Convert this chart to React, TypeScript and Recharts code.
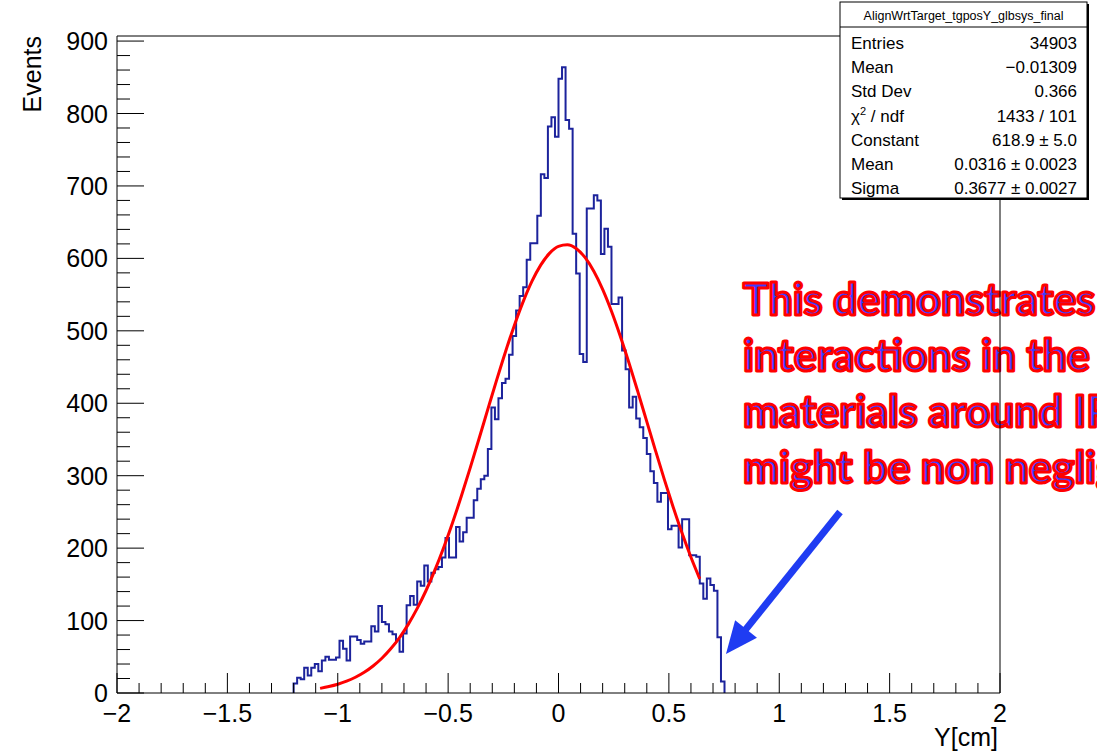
import React from 'react';
import { ComposedChart, Line, XAxis, YAxis } from 'recharts';

const W = 1097;
const H = 751;
// plot frame in page pixels (ROOT pad margins)
const PLOT = { left: 117, right: 1000, top: 36, bottom: 693 };
const FONT = '"Liberation Sans", Arial, Helvetica, sans-serif';

// histogram: lower edge of the first filled bin, bin width, contents
const BIN_START = -1.2;
const BIN_WIDTH = 0.016;
const BIN_COUNTS = [
  13, 21, 19, 35, 24, 35, 40, 30, 45, 50, 46, 46, 49, 72, 61, 45, 78, 78, 73, 68,
  71, 71, 92, 85, 120, 98, 95, 85, 81, 73, 57, 82, 121, 134, 122,
  154, 148, 176, 154, 166, 171, 174, 187, 214, 187, 187, 229, 209, 222, 242, 242,
  266, 282, 295, 300, 337,
  394, 378, 407, 428, 434, 467, 493, 528, 548, 560, 598, 621, 621, 659, 716, 711,
  782, 795, 768, 848, 864,
  791, 779, 634, 579, 468, 457, 669, 669, 687, 680, 606, 641, 616, 537, 537, 546,
  473, 447, 394, 409, 379, 367, 352, 330, 306, 290, 264, 276, 276,
  226, 231, 231, 201, 240, 240, 190, 190, 188, 151, 130, 158, 149, 141, 77, 16,
];

// gaus fit curve as drawn (red)
const FIT_X = [
  -1.08, -1.04, -1.0, -0.96, -0.92, -0.88, -0.84, -0.8, -0.76, -0.72, -0.68, -0.64,
  -0.6, -0.56, -0.52, -0.48, -0.44, -0.4, -0.36, -0.32, -0.28, -0.24, -0.2, -0.16,
  -0.12, -0.08, -0.04, 0.0, 0.04, 0.08, 0.12, 0.16, 0.2, 0.24, 0.28, 0.32, 0.36,
  0.4, 0.44, 0.48, 0.52, 0.56, 0.6, 0.64,
];
const FIT_Y = [
  6.4, 8.9, 12.1, 16.3, 21.7, 28.6, 37.3, 48.0, 61.0, 76.6, 95.1, 116.8,
  141.5, 169.6, 200.9, 235.1, 271.9, 310.8, 351.0, 391.8, 432.2, 471.2, 507.5, 540.3,
  568.5, 591.0, 607.3, 616.6, 618.7, 613.6, 601.3, 582.3, 557.3, 527.1, 492.6, 455.0, 415.3,
  374.7, 334.0, 294.2, 256.2, 220.4, 187.4, 157.5,
];

const X_DOMAIN: [number, number] = [-2, 2];
const Y_DOMAIN: [number, number] = [0, 907];
const X_MAJOR = [-2, -1.5, -1, -0.5, 0, 0.5, 1, 1.5, 2];
const Y_MAJOR = [0, 100, 200, 300, 400, 500, 600, 700, 800, 900];

const STATS_TITLE = 'AlignWrtTarget_tgposY_glbsys_final';
const STATS_ROWS: [string, string][] = [
  ['Entries', '34903'],
  ['Mean', '\u22120.01309'],
  ['Std Dev', '0.366'],
  ['chi2', '1433 / 101'],
  ['Constant', '618.9 \u00b1 5.0'],
  ['Mean', '0.0316 \u00b1 0.0023'],
  ['Sigma', '0.3677 \u00b1 0.0027'],
];

const NOTE_LINES = [
  'This demonstrates that',
  'interactions in the',
  'materials around IP',
  'might be non negligible',
];

// minor ticks every 0.1 on x, every 20 on y
const xTicks: number[] = [];
for (let i = 0; i <= 40; i++) xTicks.push(Math.round((X_DOMAIN[0] + i * 0.1) * 10) / 10);
const yTicks: number[] = [];
for (let v = 0; v <= 900; v += 20) yTicks.push(v);

const histData = [
  { x: BIN_START, n: 0 },
  ...BIN_COUNTS.map((n, i) => ({ x: +(BIN_START + i * BIN_WIDTH).toFixed(3), n })),
  { x: +(BIN_START + BIN_COUNTS.length * BIN_WIDTH).toFixed(3), n: 0 },
];
const fitData = FIT_X.map((x, i) => ({ x, f: FIT_Y[i] }));

const fmt = (v: number) => (v < 0 ? '\u2212' + Math.abs(v) : String(v));

const XTick = (props: any) => {
  const { x, y, payload } = props;
  const v = payload.value;
  const major = X_MAJOR.some((m) => Math.abs(m - v) < 1e-6);
  return (
    <g>
      <line x1={x} x2={x} y1={y} y2={y - (major ? 20 : 10)} stroke="#000" strokeWidth={1} />
      {major && (
        <text x={x} y={y + 29} textAnchor="middle" fontSize={25} fontFamily={FONT} fill="#000">
          {fmt(v)}
        </text>
      )}
    </g>
  );
};

const YTick = (props: any) => {
  const { x, y, payload } = props;
  const v = payload.value;
  const major = Y_MAJOR.includes(v);
  return (
    <g>
      <line x1={x} x2={x + (major ? 27 : 13)} y1={y} y2={y} stroke="#000" strokeWidth={1} />
      {major && (
        <text x={x - 9} y={y} dy="0.36em" textAnchor="end" fontSize={25} fontFamily={FONT} fill="#000">
          {v}
        </text>
      )}
    </g>
  );
};

const StatsBox = () => {
  const x0 = 840;
  const x1 = 1087;
  const y0 = 2;
  const y1 = 198;
  return (
    <g fontFamily={FONT} fill="#000">
      <rect x={x0 + 2} y={y0 + 2} width={x1 - x0} height={y1 - y0} fill="#000" />
      <rect x={x0} y={y0} width={x1 - x0} height={y1 - y0} fill="#fff" stroke="#000" strokeWidth={1} />
      <line x1={x0} x2={x1} y1={27} y2={27} stroke="#000" strokeWidth={1} />
      <text x={(x0 + x1) / 2} y={20} textAnchor="middle" fontSize={12.5}>
        {STATS_TITLE}
      </text>
      {STATS_ROWS.map(([label, value], i) => {
        const by = 49 + i * 24.2;
        return (
          <g key={i}>
            {label === 'chi2' ? (
              <text x={851} y={by} fontSize={17}>
                {'\u03c7'}
                <tspan dy={-7} fontSize={11}>2</tspan>
                <tspan dy={7}>{' / ndf'}</tspan>
              </text>
            ) : (
              <text x={851} y={by} fontSize={17}>
                {label}
              </text>
            )}
            <text x={1077} y={by} textAnchor="end" fontSize={17}>
              {value}
            </text>
          </g>
        );
      })}
    </g>
  );
};

const Arrow = () => {
  // blue annotation arrow pointing at the drop near y = 0.75 cm
  const from = { x: 840, y: 512 };
  const tip = { x: 726, y: 654 };
  const dx = tip.x - from.x;
  const dy = tip.y - from.y;
  const len = Math.hypot(dx, dy);
  const ux = dx / len;
  const uy = dy / len;
  const headLen = 32;
  const half = 14;
  const bx = tip.x - ux * headLen;
  const by = tip.y - uy * headLen;
  const pts = `${tip.x},${tip.y} ${bx - uy * half},${by + ux * half} ${bx + uy * half},${by - ux * half}`;
  return (
    <g>
      <line x1={from.x} y1={from.y} x2={bx + ux * 2} y2={by + uy * 2} stroke="#1f3cf2" strokeWidth={7} />
      <polygon points={pts} fill="#1f3cf2" />
    </g>
  );
};

export default function App() {
  return (
    <div style={{ position: 'absolute', left: 0, top: 0, width: W, height: H, background: '#fff', overflow: 'hidden' }}>
      <ComposedChart
        width={W}
        height={H}
        data={histData}
        margin={{ top: PLOT.top, right: W - PLOT.right, bottom: 0, left: 0 }}
      >
        <XAxis
          dataKey="x"
          type="number"
          domain={X_DOMAIN}
          ticks={xTicks}
          interval={0}
          tickSize={0}
          tickMargin={0}
          height={H - PLOT.bottom}
          axisLine={{ stroke: '#000', strokeWidth: 1 }}
          tickLine={false}
          tick={(p: any) => <XTick {...p} />}
          allowDataOverflow
        />
        <YAxis
          type="number"
          domain={Y_DOMAIN}
          ticks={yTicks}
          interval={0}
          tickSize={0}
          tickMargin={0}
          width={PLOT.left}
          axisLine={{ stroke: '#000', strokeWidth: 1 }}
          tickLine={false}
          tick={(p: any) => <YTick {...p} />}
          allowDataOverflow
        />
        <Line
          data={histData}
          dataKey="n"
          type="stepAfter"
          stroke="#1c239c"
          strokeWidth={2}
          dot={false}
          activeDot={false}
          isAnimationActive={false}
        />
        <Line
          data={fitData}
          dataKey="f"
          type="monotone"
          stroke="#ff0000"
          strokeWidth={3}
          dot={false}
          activeDot={false}
          isAnimationActive={false}
        />
      </ComposedChart>

      <svg width={W} height={H} style={{ position: 'absolute', left: 0, top: 0, pointerEvents: 'none' }}>
        <text
          transform={`translate(41, ${PLOT.top}) rotate(-90)`}
          textAnchor="end"
          fontSize={25}
          fontFamily={FONT}
          fill="#000"
        >
          Events
        </text>
        <text x={998} y={746} textAnchor="end" fontSize={25} fontFamily={FONT} fill="#000">
          Y[cm]
        </text>

        <g fontFamily="Lato, 'Open Sans', sans-serif" fontWeight={700} fontSize={43}>
          {NOTE_LINES.map((t, i) => (
            <text key={i} x={743} y={315 + i * 56} fill="#3c3cff" stroke="#ff0000" strokeWidth={3} strokeLinejoin="round">
              {t}
            </text>
          ))}
        </g>

        <Arrow />

        <line x1={PLOT.left} x2={PLOT.right} y1={PLOT.top} y2={PLOT.top} stroke="#000" strokeWidth={1} />
        <line x1={PLOT.right} x2={PLOT.right} y1={PLOT.top} y2={PLOT.bottom} stroke="#000" strokeWidth={1} />

        <StatsBox />
      </svg>
    </div>
  );
}
